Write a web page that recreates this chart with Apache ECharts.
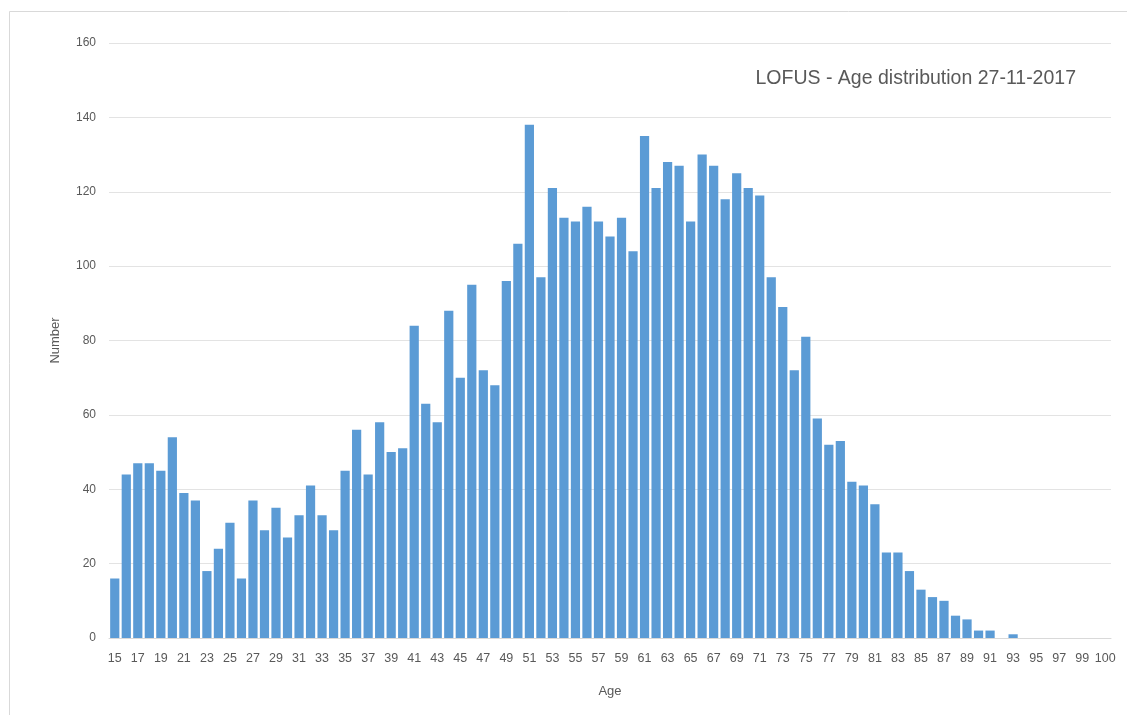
<!DOCTYPE html>
<html>
<head>
<meta charset="utf-8">
<script src="https://cdn.jsdelivr.net/npm/echarts@6/dist/echarts.min.js"></script>
<style>
html,body{margin:0;padding:0;background:#fff;}
#chart{width:1127px;height:715px;}
</style>
</head>
<body>
<div id="chart"></div>
<script>
// Categories as laid out in the reference: 15..99, one unlabeled slot, then 100
const ages = [];
for (let a = 15; a <= 99; a++) ages.push(String(a));
ages.push('');
ages.push('100');
const counts = [
  16, 44, 47, 47, 45, 54, 39, 37, 18, 24,   // 15-24
  31, 16, 37, 29, 35, 27, 33, 41, 33, 29,   // 25-34
  45, 56, 44, 58, 50, 51, 84, 63, 58, 88,   // 35-44
  70, 95, 72, 68, 96, 106, 138, 97, 121, 113, // 45-54
  112, 116, 112, 108, 113, 104, 135, 121, 128, 127, // 55-64
  112, 130, 127, 118, 125, 121, 119, 97, 89, 72, // 65-74
  81, 59, 52, 53, 42, 41, 36, 23, 23, 18,   // 75-84
  13, 11, 10, 6, 5, 2, 2, 0, 1, 0,          // 85-94
  0, 0, 0, 0, 0,                            // 95-99
  0,                                        // unlabeled slot
  0                                         // 100
];
const titleText = 'LOFUS - Age distribution 27-11-2017';
const yTicks = { min: 0, max: 160, interval: 20 };

const FONT = 'Liberation Sans';
const chart = echarts.init(document.getElementById('chart'));
chart.setOption({
  animation: false,
  backgroundColor: '#ffffff',
  graphic: [{
    type: 'rect', left: 7, top: 9,
    shape: { width: 1130, height: 720 },
    style: { fill: 'none', stroke: '#d9d9d9', lineWidth: 1 },
    silent: true
  }],
  title: {
    text: titleText, right: 46, top: 64,
    textStyle: { fontFamily: FONT, fontSize: 19.5, fontWeight: 'normal', color: '#595959' }
  },
  grid: { left: 109, right: 16, top: 43, bottom: 77 },
  xAxis: {
    type: 'category', data: ages,
    name: 'Age', nameLocation: 'middle', nameGap: 47,
    nameTextStyle: { fontFamily: FONT, fontSize: 13, color: '#595959' },
    axisLine: { lineStyle: { color: '#d9d9d9' } },
    axisTick: { show: false },
    axisLabel: { interval: 1, fontFamily: FONT, fontSize: 12.5, color: '#595959', margin: 14 }
  },
  yAxis: {
    type: 'value', min: yTicks.min, max: yTicks.max, interval: yTicks.interval,
    name: 'Number', nameLocation: 'middle', nameGap: 47, nameRotate: 90,
    nameTextStyle: { fontFamily: FONT, fontSize: 13, color: '#595959' },
    axisLine: { show: false }, axisTick: { show: false },
    axisLabel: { fontFamily: FONT, fontSize: 12, color: '#595959', margin: 13 },
    splitLine: { lineStyle: { color: '#e3e3e3' } }
  },
  series: [{
    type: 'bar', data: counts,
    barCategoryGap: '20%',
    itemStyle: { color: '#5b9bd5' }
  }]
});
</script>
</body>
</html>
